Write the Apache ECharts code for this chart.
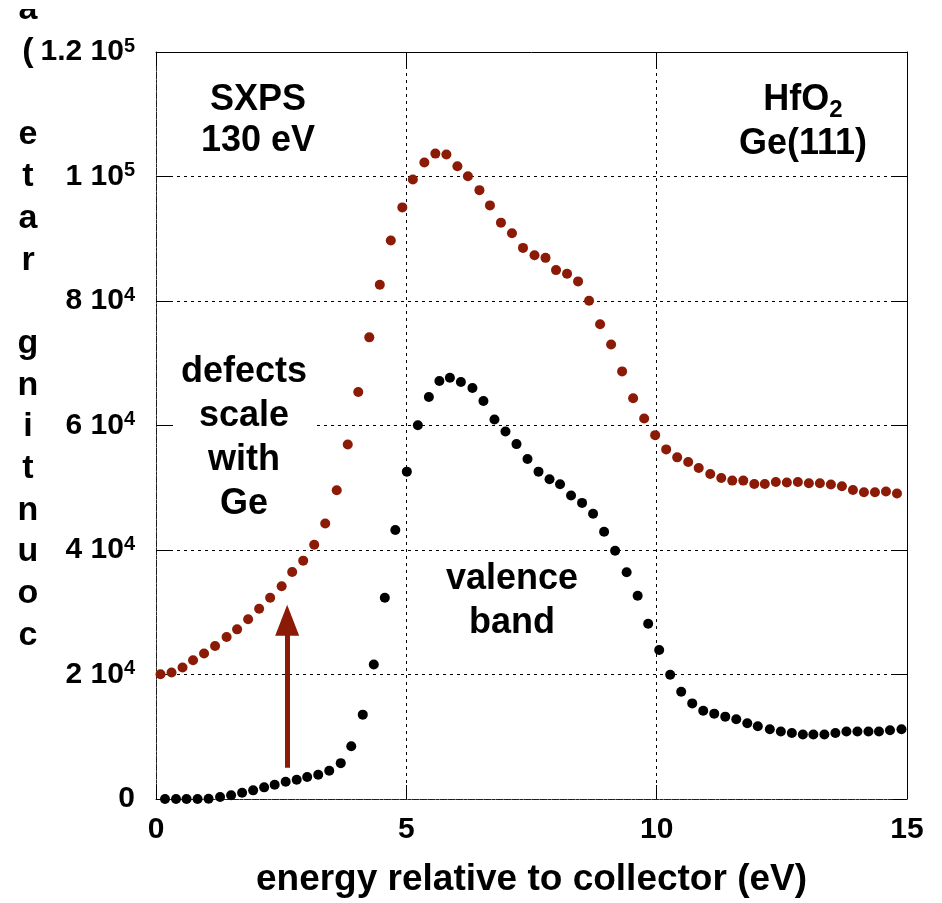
<!DOCTYPE html>
<html><head><meta charset="utf-8">
<script src="https://cdn.jsdelivr.net/npm/echarts@6/dist/echarts.min.js"></script>
<style>html,body{margin:0;padding:0;background:#fff}#c{width:942px;height:903px}</style>
</head><body><div id="c"></div>
<script>
// ---- data ----
const geX = [0.09,0.31,0.53,0.74,0.96,1.18,1.41,1.62,1.84,2.06,2.28,2.51,2.72,2.94,3.16,3.38,3.61,3.83,4.04,4.26,4.47,4.69,4.92,5.13,5.36,5.58,5.80,6.02,6.23,6.46,6.67,6.89,7.11,7.33,7.56,7.78,7.99,8.21,8.43,8.65,8.87,9.09,9.31,9.53,9.75,9.97,10.19,10.41,10.63,10.84,11.07,11.29,11.51,11.73,11.95,12.16,12.38,12.60,12.82,13.04,13.26,13.48,13.70,13.92,14.14,14.36,14.58,14.80];
const geY = [20050,20320,21120,22290,23360,24590,26030,27250,28880,30560,32320,34190,36480,38290,40850,44270,49600,56960,65390,74160,82610,89710,95040,99520,102240,103680,103520,101650,100050,97810,95360,92590,90880,88530,87360,86930,84960,84370,83150,80050,76270,73010,68690,64370,61120,58450,56160,54880,54130,53170,52210,51570,51150,51150,50610,50610,50930,50830,50930,50720,50720,50510,50240,49650,49280,49280,49390,49070];
const vbX = [0.18,0.40,0.61,0.83,1.05,1.28,1.50,1.72,1.94,2.16,2.37,2.59,2.81,3.02,3.24,3.46,3.69,3.90,4.13,4.35,4.57,4.78,5.01,5.23,5.45,5.66,5.87,6.09,6.32,6.54,6.76,6.98,7.20,7.42,7.64,7.86,8.07,8.29,8.51,8.73,8.95,9.17,9.40,9.62,9.83,10.05,10.27,10.49,10.71,10.93,11.15,11.37,11.59,11.81,12.02,12.26,12.48,12.70,12.92,13.13,13.35,13.57,13.79,14.01,14.23,14.44,14.66,14.89];
const vbY = [0,0,0,0,50,320,590,1010,1390,1870,2290,2770,3090,3520,3890,4530,5760,8480,13550,21600,32320,43200,52590,60050,64590,67150,67680,66990,66030,63950,60960,59040,57010,54610,52590,51360,50560,48750,47570,45810,42930,39890,36430,32640,28160,23950,19950,17230,15360,14190,13710,13230,12800,12160,11680,11200,10830,10610,10350,10350,10350,10610,10830,10830,10830,10830,11040,11200];
const yTicks = [0,20000,40000,60000,80000,100000,120000];
const yTickBase = ['0','2 10','4 10','6 10','8 10','1 10','1.2 10'];
const yTickExp = ['','4','4','4','4','5','5'];
const xTicks = ['0','5','10','15'];
const arrowX = 2.62, arrowFrom = 5010, arrowTo = 28720;
const xTitle = 'energy relative to collector (eV)';
const yTitleLetters = ['a','(',' ','e','t','a','r',' ','g','n','i','t','n','u','o','c'];

// ---- chart ----
const FONT = '"Liberation Sans", Arial, Helvetica, sans-serif';
const RED = '#8B1A06';
const chart = echarts.init(document.getElementById('c'), null, {renderer:'canvas'});
const zip = (xs, ys) => xs.map((x, i) => [x, ys[i]]);
const grid = {left:156, right:35, top:52, bottom:101, containLabel:false};
const dashGrid = {show:true, lineStyle:{color:'#000', type:[3,4], width:1}};
chart.setOption({
  animation:false,
  grid,
  xAxis:[{
    type:'value', min:0, max:15, interval:5, position:'bottom',
    axisLine:{show:true, onZero:false, lineStyle:{color:'#222', width:1, type:[3,1]}},
    axisTick:{show:true, inside:true, length:14, lineStyle:{color:'#000'}},
    splitLine:dashGrid,
    axisLabel:{color:'#000', fontFamily:FONT, fontWeight:'bold', fontSize:30, margin:16,
      formatter:(v)=>xTicks[Math.round(v/5)]},
    name:xTitle, nameLocation:'middle', nameGap:62,
    nameTextStyle:{color:'#000', fontFamily:FONT, fontWeight:'bold', fontSize:37}
  },{
    type:'value', min:0, max:15, interval:5, position:'top',
    axisLine:{show:true, onZero:false, lineStyle:{color:'#000', width:1}},
    axisTick:{show:true, inside:true, length:14, lineStyle:{color:'#000'}},
    axisLabel:{show:false}, splitLine:{show:false}
  }],
  yAxis:[{
    type:'value', min:0, max:120000, interval:20000, position:'left',
    axisLine:{show:true, onZero:false, lineStyle:{color:'#222', width:1, type:[3,1]}},
    axisTick:{show:true, inside:true, length:14, lineStyle:{color:'#000'}},
    splitLine:dashGrid,
    axisLabel:{color:'#000', margin:21,
      formatter:(v)=>{const i = yTicks.indexOf(v); return i<=0 ? '{b|0}' : '{b|'+yTickBase[i]+'}{s|'+yTickExp[i]+'}';},
      rich:{
        b:{fontFamily:FONT, fontWeight:'bold', fontSize:30, color:'#000', lineHeight:32},
        s:{fontFamily:FONT, fontWeight:'bold', fontSize:20, color:'#000', lineHeight:20, verticalAlign:'top'}
      }}
  },{
    type:'value', min:0, max:120000, interval:20000, position:'right',
    axisLine:{show:true, onZero:false, lineStyle:{color:'#000', width:1}},
    axisTick:{show:true, inside:true, length:14, lineStyle:{color:'#000'}},
    axisLabel:{show:false}, splitLine:{show:false}
  }],
  graphic:[
    {type:'text', z:1, style:{x:28, y:10-41.7/2, text:yTitleLetters.join('\n'), lineHeight:41.7,
      font:'bold 34px '+FONT, fill:'#000', textAlign:'center', textVerticalAlign:'top'}},
    {type:'rect', z:2, shape:{x:0, y:0, width:70, height:9}, style:{fill:'#fff'}},
    {type:'text', z:1, style:{x:258, y:120.5, text:'SXPS\n130 eV', lineHeight:41,
      font:'bold 36px '+FONT, fill:'#000', textAlign:'center', textVerticalAlign:'middle'}},
    {type:'text', z:1, style:{x:803, y:122, text:'{a|HfO}{u|2}\n{a|Ge(111)}',
      textAlign:'center', textVerticalAlign:'middle',
      rich:{a:{fontFamily:FONT, fontWeight:'bold', fontSize:36, lineHeight:44, color:'#000'},
            u:{fontFamily:FONT, fontWeight:'bold', fontSize:24, lineHeight:18, color:'#000', verticalAlign:'bottom'}}}},
    {type:'text', z:1, style:{x:244, y:438, text:'defects\nscale\nwith\nGe', lineHeight:44,
      font:'bold 36px '+FONT, fill:'#000', textAlign:'center', textVerticalAlign:'middle',
      backgroundColor:'#fff', padding:[0,6]}},
    {type:'text', z:1, style:{x:512, y:601, text:'valence\nband', lineHeight:44,
      font:'bold 36px '+FONT, fill:'#000', textAlign:'center', textVerticalAlign:'middle'}}
  ],
  series:[{
    type:'scatter', name:'Ge', xAxisIndex:0, yAxisIndex:0, z:3,
    data:zip(geX, geY), symbol:'circle', symbolSize:10,
    itemStyle:{color:RED, opacity:1},
    markLine:{silent:true, symbol:['none','triangle'], symbolSize:[24,31],
      label:{show:false}, lineStyle:{color:RED, width:5, type:'solid', opacity:1},
      itemStyle:{color:RED},
      emphasis:{disabled:true},
      data:[[{coord:[arrowX, arrowFrom]},{coord:[arrowX, arrowTo]}]]}
  },{
    type:'scatter', name:'VB', xAxisIndex:0, yAxisIndex:0, z:3,
    data:zip(vbX, vbY), symbol:'circle', symbolSize:10,
    itemStyle:{color:'#000', opacity:1}
  }]
});
</script></body></html>
